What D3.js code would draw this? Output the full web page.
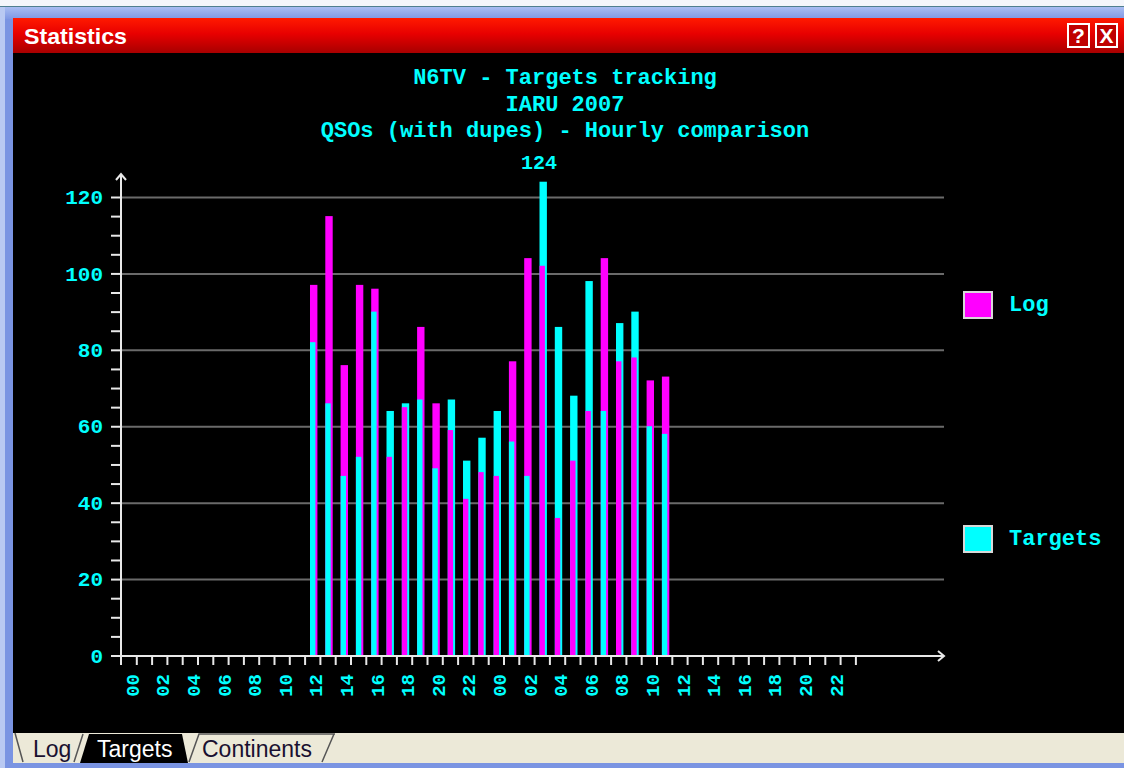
<!DOCTYPE html>
<html>
<head>
<meta charset="utf-8">
<script src="https://cdn.jsdelivr.net/npm/d3@7"></script>
<style>
  html, body { margin: 0; padding: 0; background: #000; overflow: hidden; }
  .mono { font-family: "Liberation Mono", "DejaVu Sans Mono", monospace; font-weight: bold; fill: #00ffff; }
  .ui { font-family: "Liberation Sans", Arial, sans-serif; }
</style>
</head>
<body>
<div id="stats"></div>
<script>
// hourly QSO counts, first bar is 12z of day one
var barHours = ["12","13","14","15","16","17","18","19","20","21","22","23",
                "00","01","02","03","04","05","06","07","08","09","10","11"]
var logQsos = [97,115,76,97,96,52,65,86,66,59,41,48,
               47,77,104,102,36,51,64,104,77,78,72,73]
var targetQsos = [82,66,47,52,90,64,66,67,49,67,51,57,
                  64,56,47,124,86,68,98,64,87,90,60,58]
var hourLabels = ["00","02","04","06","08","10","12","14","16","18","20","22"]
var yTicks = [0,20,40,60,80,100,120]
var titleLines = ["N6TV - Targets tracking", "IARU 2007", "QSOs (with dupes) - Hourly comparison"]
var seriesNames = ["Log", "Targets"]
var seriesColors = ["#ff00ff", "#00ffff"]
var tabNames = ["Log", "Targets", "Continents"]

var width = 1124, height = 768
var svg, xScale, yScale

drawWindow()
drawChart()

function drawWindow()
{
    svg = d3.select("#stats")
        .append("svg")
        .attr("width", width)
        .attr("height", height)
        .attr("display", "block")

    var defs = svg.append("defs")
    var red = defs.append("linearGradient").attr("id", "titleRed")
        .attr("x1", 0).attr("y1", 0).attr("x2", 0).attr("y2", 1)
    red.append("stop").attr("offset", "0%").attr("stop-color", "#ff1a00")
    red.append("stop").attr("offset", "45%").attr("stop-color", "#e80000")
    red.append("stop").attr("offset", "100%").attr("stop-color", "#a80000")
    var blue = defs.append("linearGradient").attr("id", "frameBlue")
        .attr("x1", 0).attr("y1", 0).attr("x2", 0).attr("y2", 1)
    blue.append("stop").attr("offset", "0%").attr("stop-color", "#a9bdf2")
    blue.append("stop").attr("offset", "100%").attr("stop-color", "#7f98e4")

    // frame
    svg.append("rect").attr("width", width).attr("height", height).attr("fill", "#7a94e2")
    svg.append("rect").attr("width", width).attr("height", 6).attr("fill", "#f4f6fb")
    svg.append("rect").attr("y", 6).attr("width", width).attr("height", 1).attr("fill", "#4f7f8f")
    svg.append("rect").attr("y", 7).attr("width", width).attr("height", 12).attr("fill", "url(#frameBlue)")
    svg.append("rect").attr("x", 0).attr("y", 7).attr("width", 5).attr("height", height).attr("fill", "#b9c9f2")

    // title bar
    svg.append("rect").attr("x", 13).attr("y", 18).attr("width", width - 13).attr("height", 35)
        .attr("fill", "url(#titleRed)")
    svg.append("text").attr("class", "ui")
        .attr("x", 24).attr("y", 44)
        .attr("fill", "#fff").attr("font-size", 22).attr("font-weight", "bold")
        .attr("textLength", 103).attr("lengthAdjust", "spacingAndGlyphs")
        .text("Statistics")
    var buttons = [{x: 1068, t: "?"}, {x: 1096, t: "X"}]
    buttons.forEach(function(b) {
        svg.append("rect").attr("x", b.x).attr("y", 24).attr("width", 21).attr("height", 23)
            .attr("fill", "#c00000").attr("stroke", "#fff").attr("stroke-width", 2)
        svg.append("text").attr("class", "ui")
            .attr("x", b.x + 10.5).attr("y", 43).attr("text-anchor", "middle")
            .attr("fill", "#fff").attr("font-size", 21).attr("font-weight", "bold")
            .text(b.t)
    })

    // client area
    svg.append("rect").attr("x", 13).attr("y", 53).attr("width", width - 13).attr("height", 680)
        .attr("fill", "#000")

    // tab strip
    svg.append("rect").attr("x", 13).attr("y", 733).attr("width", width - 13).attr("height", 30)
        .attr("fill", "#ece9d8")
    svg.append("path").attr("d", "M80,763 L89,734 L182,734 L188,763 Z").attr("fill", "#000")
    svg.append("path")
        .attr("d", "M15,733 L23,762 M74,762 L83,734 M189,762 L199,734 L335,734 M322,762 L334,734")
        .attr("fill", "none").attr("stroke", "#555").attr("stroke-width", 1.5)
    var tabX = [33, 97, 202]
    svg.selectAll(".tab")
        .data(tabNames)
        .enter()
        .append("text")
        .attr("class", "ui tab")
        .attr("x", function(d, i) { return tabX[i] })
        .attr("y", 757)
        .attr("font-size", 23)
        .attr("fill", function(d, i) { return i == 1 ? "#fff" : "#1a1030" })
        .text(function(d) { return d })
}

function drawChart()
{
    xScale = d3.scaleLinear()
        .domain([0, 48])
        .range([121, 855.4])
    yScale = d3.scaleLinear()
        .domain([0, 120])
        .range([655.5, 197])

    var plot = svg.append("g")

    // gridlines
    plot.append("g")
        .attr("transform", "translate(121,0)")
        .call(d3.axisRight(yScale).tickValues(yTicks.slice(1)).tickSize(823).tickFormat(""))
        .call(function(g) { g.select(".domain").remove() })
        .selectAll("line").attr("stroke", "#6a6a6a").attr("stroke-width", 2)

    // bars, taller series behind and full width, shorter one in front
    var slots = []
    var day = 0, prev = -1
    barHours.forEach(function(h) {
        h = +h
        if (h < prev) day++
        prev = h
        slots.push(day * 24 + h)
    })
    var bars = slots.map(function(s, i) {
        var pair = [{v: logQsos[i], c: seriesColors[0]}, {v: targetQsos[i], c: seriesColors[1]}]
        pair.sort(function(a, b) { return b.v - a.v })
        return {slot: s, back: pair[0], front: pair[1]}
    })
    var barG = plot.append("g").selectAll("g").data(bars).enter().append("g")
    barG.append("rect")
        .attr("x", function(b) { return xScale(b.slot) + 5.4 })
        .attr("width", 7.4)
        .attr("y", function(b) { return yScale(b.back.v) })
        .attr("height", function(b) { return yScale(0) - yScale(b.back.v) })
        .attr("fill", function(b) { return b.back.c })
    barG.append("rect")
        .attr("x", function(b) { return xScale(b.slot) + 5.4 })
        .attr("width", 5.4)
        .attr("y", function(b) { return yScale(b.front.v) })
        .attr("height", function(b) { return yScale(0) - yScale(b.front.v) })
        .attr("fill", function(b) { return b.front.c })

    // max value label
    var maxV = d3.max(logQsos.concat(targetQsos))
    var maxI = targetQsos.indexOf(maxV)
    if (maxI < 0) maxI = logQsos.indexOf(maxV)
    plot.append("text")
        .attr("class", "mono")
        .attr("x", xScale(slots[maxI]) + 5)
        .attr("y", yScale(maxV) - 13)
        .attr("text-anchor", "middle")
        .attr("font-size", 20)
        .text(maxV)

    // y axis
    var yAxisG = plot.append("g")
        .attr("transform", "translate(121,0)")
        .call(d3.axisLeft(yScale)
            .tickValues(d3.range(0, 121, 5))
            .tickSize(10)
            .tickPadding(8)
            .tickFormat(function(d) { return yTicks.indexOf(d) >= 0 ? d : "" }))
    yAxisG.select(".domain").remove()
    yAxisG.selectAll("line").attr("stroke", "#e8e8e8").attr("stroke-width", 2)
    yAxisG.selectAll("text")
        .attr("class", "mono")
        .attr("font-size", 21)
        .attr("fill", "#00ffff")

    // x axis ticks
    var xAxisG = plot.append("g")
        .attr("transform", "translate(0,656)")
        .call(d3.axisBottom(xScale).tickValues(d3.range(1, 49)).tickSize(9).tickFormat(""))
    xAxisG.select(".domain").remove()
    xAxisG.selectAll("line").attr("stroke", "#e8e8e8").attr("stroke-width", 2)

    // hour labels, two days
    var labelData = []
    for (var d = 0; d < 2; d++)
        hourLabels.forEach(function(h) { labelData.push({slot: d * 24 + (+h), text: h}) })
    plot.append("g").selectAll("text")
        .data(labelData)
        .enter()
        .append("text")
        .attr("class", "mono")
        .attr("font-size", 19)
        .attr("text-anchor", "end")
        .attr("dominant-baseline", "central")
        .attr("transform", function(l) { return "translate(" + (xScale(l.slot + 1) - 2.5) + ",674) rotate(-90)" })
        .text(function(l) { return l.text })

    // axis lines with arrows
    plot.append("path")
        .attr("d", "M121,665 L121,174 M116,180 L121,174 L126,180 M111,656 L944,656 M938,651 L944,656 L938,661")
        .attr("fill", "none")
        .attr("stroke", "#e8e8e8")
        .attr("stroke-width", 2)

    // titles
    plot.append("g").selectAll("text")
        .data(titleLines)
        .enter()
        .append("text")
        .attr("class", "mono")
        .attr("x", 565)
        .attr("y", function(t, i) { return [84, 111, 137][i] })
        .attr("text-anchor", "middle")
        .attr("font-size", 22)
        .text(function(t) { return t })

    // legend
    var legend = plot.append("g").selectAll("g")
        .data(seriesNames)
        .enter()
        .append("g")
        .attr("transform", function(s, i) { return "translate(964," + [292, 526][i] + ")" })
    legend.append("rect")
        .attr("width", 28).attr("height", 26)
        .attr("fill", function(s, i) { return seriesColors[i] })
        .attr("stroke", "#d8d8d8").attr("stroke-width", 2)
    legend.append("text")
        .attr("class", "mono")
        .attr("x", 45).attr("y", 13)
        .attr("dominant-baseline", "central")
        .attr("font-size", 22)
        .text(function(s) { return s })
}
</script>
</body>
</html>
